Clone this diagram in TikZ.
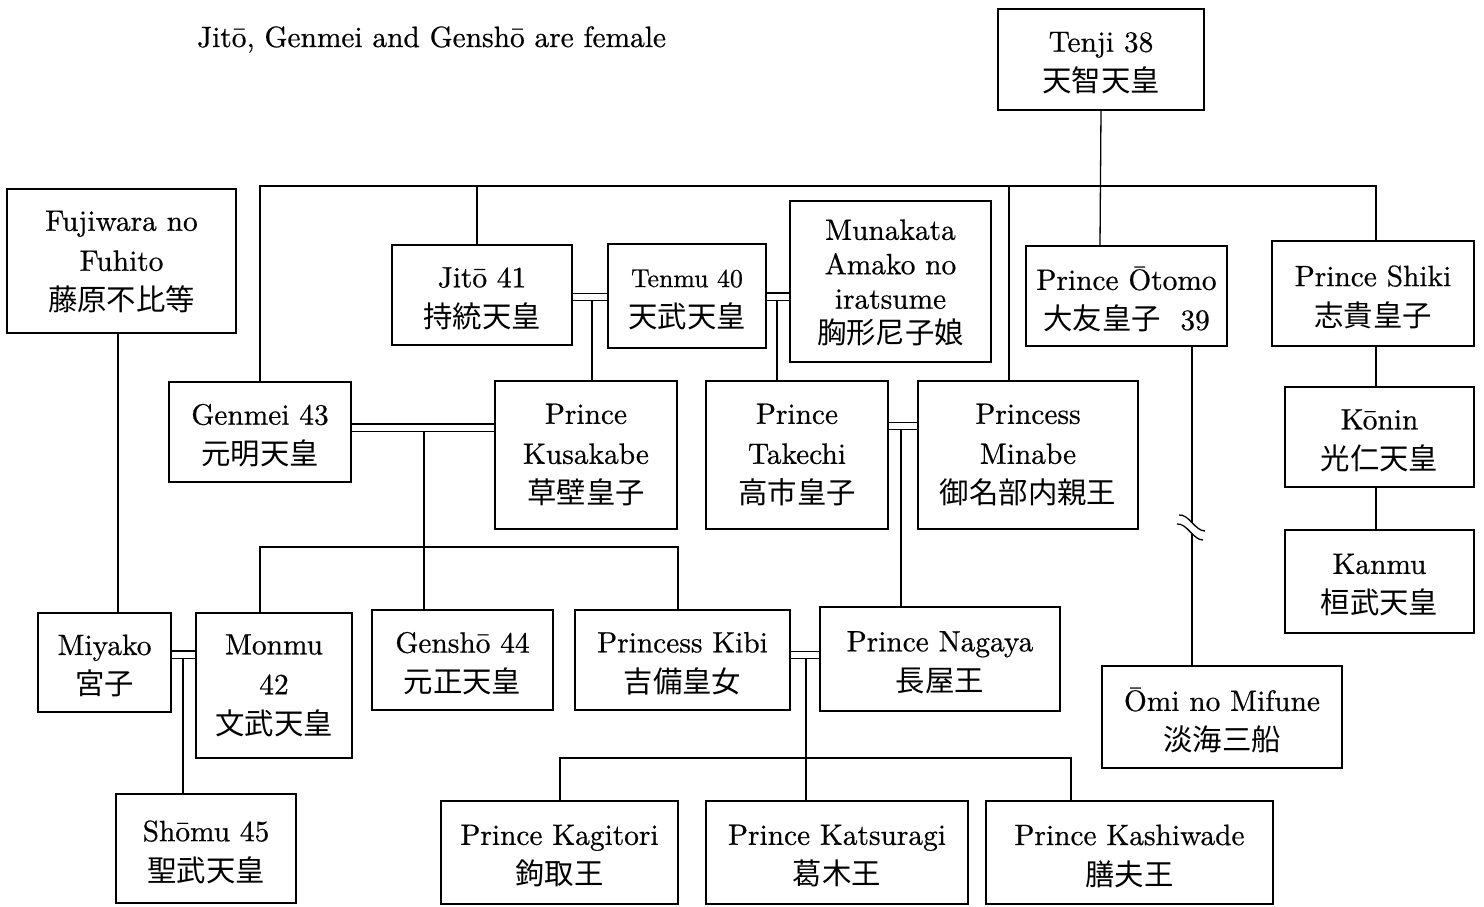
\documentclass[tikz,border=0pt]{standalone}
\usepackage{fontspec}
\setmainfont{lmroman10-regular}[Extension=.otf, FakeBold=0.6]
\newfontfamily\cjkfont{Noto Sans CJK JP}
\newcommand\jp[1]{{\cjkfont #1}}
\newcommand\pb[7][-1.75pt]{\node[pbox, minimum width=#5*0.5pt, minimum height=#6*0.5pt] (#2) at (#3,#4) {};
  \node[ptext] (#2-t) at ([yshift=#1]#2.center) {#7};}
\begin{document}
\begin{tikzpicture}[x=0.5pt,y=-0.5pt,
  every node/.style={font=\fontsize{14.7}{20}\selectfont},
  pbox/.style={draw, line width=0.65pt, inner sep=0pt},
  ptext/.style={align=center, inner sep=0pt},
  link/.style={line width=0.65pt},
  wed/.style={line width=0.65pt, double, double distance=3pt}]
\useasboundingbox (0,0) rectangle (1484,906);

\node[anchor=base west] (note) at (190,47) {Jitō, Genmei and Genshō are female};

\pb{tenji}{1101}{59.5}{206}{101}{Tenji 38\\\jp{天智天皇}}
\pb[-0.5pt]{fujiwara}{121.5}{261}{229}{144}{Fujiwara no\\Fuhito\\\jp{藤原不比等}}
\pb{jito}{482}{295}{180}{100}{Jitō 41\\\jp{持統天皇}}
\pb{tenmu}{687}{296}{158}{104}{{\fontsize{12.9}{15}\selectfont Tenmu 40}\\\jp{天武天皇}}
\node[pbox, minimum width=100.5pt, minimum height=80.5pt] (munakata) at (890.5,281.5) {};
\node[ptext, font=\fontsize{14.7}{17.2}\selectfont] (munakata-t) at ([yshift=-0.5pt]munakata.center) {Munakata\\Amako no\\iratsume\\\jp{胸形尼子娘}};
\pb{otomo}{1126.5}{296}{201}{100}{Prince Ōtomo\\\jp{大友皇子}\ \ 39}
\pb{shiki}{1373}{293.5}{202}{105}{Prince Shiki\\\jp{志貴皇子}}
\pb{genmei}{260}{432}{182}{100}{Genmei 43\\\jp{元明天皇}}
\pb[0pt]{kusakabe}{586}{455}{182}{148}{Prince\\Kusakabe\\\jp{草壁皇子}}
\pb[0pt]{takechi}{797}{455}{182}{148}{Prince\\Takechi\\\jp{高市皇子}}
\pb[0pt]{minabe}{1028}{455}{220}{148}{Princess\\Minabe\\\jp{御名部内親王}}
\pb{konin}{1379.5}{437}{189}{100}{Kōnin\\\jp{光仁天皇}}
\pb{kanmu}{1379.5}{581.5}{189}{103}{Kanmu\\\jp{桓武天皇}}
\pb{miyako}{104.5}{662.5}{133}{99}{Miyako\\\jp{宮子}}
\pb[0pt]{monmu}{274}{685.5}{156}{145}{Monmu\\42\\\jp{文武天皇}}
\pb{gensho}{462.5}{660}{181}{100}{Genshō 44\\\jp{元正天皇}}
\pb{kibi}{682.5}{660}{215}{100}{Princess Kibi\\\jp{吉備皇女}}
\pb{nagaya}{940}{659}{240}{104}{Prince Nagaya\\\jp{長屋王}}
\pb{omi}{1222}{717}{240}{102}{Ōmi no Mifune\\\jp{淡海三船}}
\pb{shomu}{206}{848.5}{180}{109}{Shōmu 45\\\jp{聖武天皇}}
\pb{kagitori}{559.5}{852.5}{237}{103}{Prince Kagitori\\\jp{鉤取王}}
\pb{katsuragi}{837}{852.5}{262}{103}{Prince Katsuragi\\\jp{葛木王}}
\pb{kashiwade}{1129.5}{852.5}{287}{103}{Prince Kashiwade\\\jp{膳夫王}}

% Tenji's children
\coordinate (b1) at (260,186);
\coordinate (b1r) at (1376,186);
\coordinate (dj) at (477,186);
\coordinate (dm) at (1009,186);
\coordinate (dt) at (1100,186);
\draw[link] (tenji.south) -- (dt |- otomo.north);
\draw[link] (genmei.north) -- (b1) -- (b1r) -- (b1r |- shiki.north);
\draw[link] (dj) -- (dj |- jito.north);
\draw[link] (dm) -- (dm |- minabe.north);

% Shiki - Konin - Kanmu
\coordinate (ks) at (1376,0);
\draw[link] (ks |- shiki.south) -- (ks |- konin.north);
\draw[link] (ks |- konin.south) -- (ks |- kanmu.north);

% Jito - Tenmu
\coordinate (w1) at (0,297);
\draw[wed] (jito.east |- w1) -- (tenmu.west |- w1);
\coordinate (c1) at (592,301);
\draw[link] (c1) -- (c1 |- kusakabe.north);

% Tenmu - Munakata
\coordinate (w2) at (0,296.5);
\draw[wed] (tenmu.east |- w2) -- (munakata.west |- w2);
\coordinate (c2) at (777,300);
\draw[link] (c2) -- (c2 |- takechi.north);

% Genmei - Kusakabe
\coordinate (w3) at (0,427.5);
\draw[wed] (genmei.east |- w3) -- (kusakabe.west |- w3);
\coordinate (c3) at (424,431);
\draw[link] (c3) -- (c3 |- gensho.north);
\coordinate (b3) at (260,547);
\coordinate (b3r) at (678,547);
\draw[link] (b3 |- monmu.north) -- (b3) -- (b3r) -- (b3r |- kibi.north);

% Takechi - Minabe
\coordinate (w4) at (0,426);
\draw[wed] (takechi.east |- w4) -- (minabe.west |- w4);
\coordinate (c4) at (901,429.5);
\draw[link] (c4) -- (c4 |- nagaya.north);

% Fujiwara - Miyako
\coordinate (f) at (118,0);
\draw[link] (f |- fujiwara.south) -- (f |- miyako.north);

% Miyako - Monmu
\coordinate (w5) at (0,654.5);
\draw[wed] (miyako.east |- w5) -- (monmu.west |- w5);
\coordinate (c5) at (183,658);
\draw[link] (c5) -- (c5 |- shomu.north);

% Kibi - Nagaya
\coordinate (w6) at (0,655);
\draw[wed] (kibi.east |- w6) -- (nagaya.west |- w6);
\coordinate (c6) at (806,659);
\draw[link] (c6) -- (c6 |- katsuragi.north);
\coordinate (b6) at (560,758);
\coordinate (b6r) at (1071,758);
\draw[link] (b6 |- kagitori.north) -- (b6) -- (b6r) -- (b6r |- kashiwade.north);

% Otomo - Omi with break
\coordinate (o1) at (1192,523);
\coordinate (o2) at (1192,533);
\draw[link] (o1 |- otomo.south) -- (o1);
\draw[link] (o2) -- (o2 |- omi.north);
\draw[link] (1179,515) .. controls (1189,514) and (1195,531) .. (1205,531);
\draw[link] (1177,524) .. controls (1187,523) and (1193,540) .. (1203,540);
\end{tikzpicture}
\end{document}
